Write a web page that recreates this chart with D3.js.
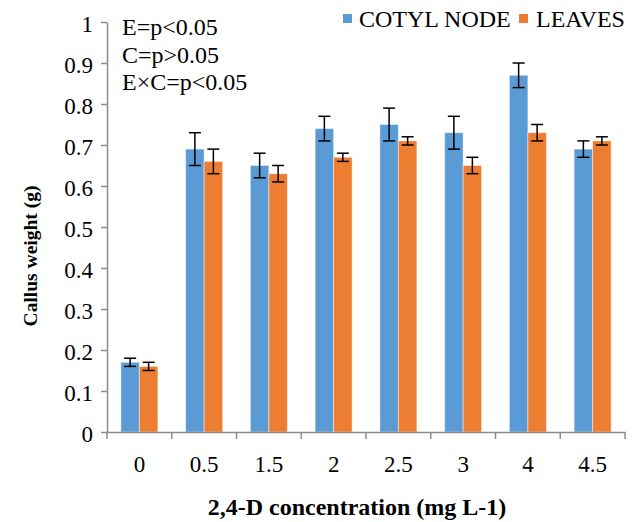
<!DOCTYPE html>
<html>
<head>
<meta charset="utf-8">
<script src="https://cdn.jsdelivr.net/npm/d3@7"></script>
<style>
  html, body { margin: 0; padding: 0; background: #fff; }
  svg { display: block; }
  svg text { font-family: "Liberation Serif", Tinos, "Times New Roman", "DejaVu Serif", "Noto Serif", serif; fill: #000; }
</style>
</head>
<body>
<svg id="chart" width="640" height="522"></svg>
<script>
// ---- data ----
const categories = ["0", "0.5", "1.5", "2", "2.5", "3", "4", "4.5"];
const seriesNames = ["COTYL NODE", "LEAVES"];
const cotylNode = [0.17, 0.69, 0.65, 0.74, 0.75, 0.73, 0.87, 0.69];
const cotylNodeErr = [0.01, 0.04, 0.03, 0.03, 0.04, 0.04, 0.03, 0.02];
const leaves = [0.16, 0.66, 0.63, 0.67, 0.71, 0.65, 0.73, 0.71];
const leavesErr = [0.01, 0.03, 0.02, 0.01, 0.01, 0.02, 0.02, 0.01];
const yTicks = [0, 0.1, 0.2, 0.3, 0.4, 0.5, 0.6, 0.7, 0.8, 0.9, 1];
const annotations = ["E=p<0.05", "C=p>0.05", "E\u00d7C=p<0.05"];
const xTitle = "2,4-D concentration (mg L-1)";
const yTitle = "Callus weight (g)";
const colors = ["#5B9BD5", "#ED7D31"];

// ---- layout ----
const FONT = '"Liberation Serif", Tinos, "Times New Roman", "DejaVu Serif", "Noto Serif", serif';
const svg = d3.select("#chart");
const mLeft = 107, mRight = 625, mTop = 22, mBottom = 432;

const x = d3.scaleBand().domain(categories).range([mLeft, mRight]).paddingInner(0).paddingOuter(0);
const gapRatio = 1.5; // Excel gap width 150%
const barW = x.bandwidth() / (2 + gapRatio);
const xs = d3.scaleBand().domain(seriesNames).range([0, 2 * barW]);
const y = d3.scaleLinear().domain([0, 1]).range([mBottom, mTop]);

const rows = categories.map((c, i) => ({
  cat: c,
  vals: [
    { s: seriesNames[0], v: cotylNode[i], e: cotylNodeErr[i], c: colors[0] },
    { s: seriesNames[1], v: leaves[i], e: leavesErr[i], c: colors[1] }
  ]
}));

// bars
const groups = svg.append("g").selectAll("g").data(rows).join("g")
  .attr("transform", d => `translate(${x(d.cat) + (x.bandwidth() - 2 * barW) / 2},0)`);

groups.selectAll("rect").data(d => d.vals).join("rect")
  .attr("x", d => xs(d.s))
  .attr("y", d => y(d.v))
  .attr("width", xs.bandwidth())
  .attr("height", d => y(0) - y(d.v))
  .attr("fill", d => d.c)
  .attr("stroke", "#ffffff")
  .attr("stroke-opacity", 0.45)
  .attr("stroke-width", 1);

// error bars
const capW = 12;
const eb = groups.selectAll("g.err").data(d => d.vals).join("g").attr("class", "err")
  .attr("stroke", "#000").attr("stroke-width", 1.5);
eb.append("line")
  .attr("x1", d => xs(d.s) + xs.bandwidth() / 2)
  .attr("x2", d => xs(d.s) + xs.bandwidth() / 2)
  .attr("y1", d => y(d.v + d.e))
  .attr("y2", d => y(d.v - d.e));
eb.append("line")
  .attr("x1", d => xs(d.s) + xs.bandwidth() / 2 - capW / 2)
  .attr("x2", d => xs(d.s) + xs.bandwidth() / 2 + capW / 2)
  .attr("y1", d => y(d.v + d.e))
  .attr("y2", d => y(d.v + d.e));
eb.append("line")
  .attr("x1", d => xs(d.s) + xs.bandwidth() / 2 - capW / 2)
  .attr("x2", d => xs(d.s) + xs.bandwidth() / 2 + capW / 2)
  .attr("y1", d => y(d.v - d.e))
  .attr("y2", d => y(d.v - d.e));

// y axis
const yAxis = svg.append("g").attr("transform", `translate(${mLeft},0)`)
  .call(d3.axisLeft(y).tickValues(yTicks).tickFormat(d3.format("~g")).tickSize(6).tickSizeOuter(0).tickPadding(8));
yAxis.attr("font-family", FONT);
yAxis.select(".domain").attr("stroke", "#8c8c8c").attr("stroke-width", 1.5);
yAxis.selectAll(".tick line").attr("stroke", "#8c8c8c").attr("stroke-width", 1.5);
yAxis.selectAll(".tick text").attr("font-size", 23).attr("fill", "#000").attr("dy", "0.42em");

// x axis
const xAxis = svg.append("g").attr("transform", `translate(0,${mBottom})`)
  .call(d3.axisBottom(x).tickSize(0).tickPadding(24).tickSizeOuter(0));
xAxis.attr("font-family", FONT);
xAxis.select(".domain").attr("stroke", "#8c8c8c").attr("stroke-width", 1.5);
xAxis.selectAll(".tick text").attr("font-size", 23).attr("fill", "#000");
// boundary ticks between categories
const bounds = categories.map(c => x(c)).concat([x(categories[categories.length - 1]) + x.bandwidth()]);
xAxis.selectAll("line.bound").data(bounds).join("line").attr("class", "bound")
  .attr("x1", d => d).attr("x2", d => d).attr("y1", 0).attr("y2", 7)
  .attr("stroke", "#8c8c8c").attr("stroke-width", 1.5);

// titles
svg.append("text").attr("x", 357).attr("y", 515)
  .attr("text-anchor", "middle").attr("font-size", 24).attr("font-weight", "bold").text(xTitle);
svg.append("text").attr("transform", `translate(37,256) rotate(-90)`)
  .attr("text-anchor", "middle").attr("font-size", 19.5).attr("font-weight", "bold").text(yTitle);

// annotations
svg.append("g").selectAll("text").data(annotations).join("text")
  .attr("x", 122).attr("y", (d, i) => 35 + i * 27.5)
  .attr("font-size", 24).text(d => d);

// legend
const legendItems = [
  { name: seriesNames[0], c: colors[0], x: 343, tx: 359 },
  { name: seriesNames[1], c: colors[1], x: 519, tx: 536 }
];
const lg = svg.append("g").selectAll("g").data(legendItems).join("g");
lg.append("rect").attr("x", d => d.x).attr("y", 14).attr("width", 9).attr("height", 9).attr("fill", d => d.c);
lg.append("text").attr("x", d => d.tx).attr("y", 27).attr("font-size", 24).text(d => d.name);
</script>
</body>
</html>
